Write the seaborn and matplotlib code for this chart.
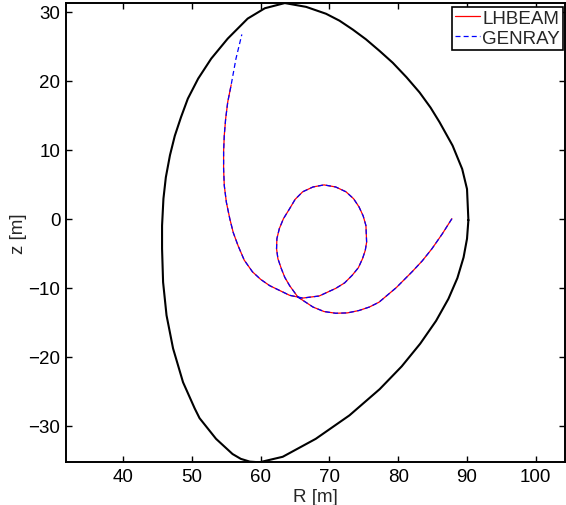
import matplotlib
matplotlib.use("Agg")
import matplotlib.pyplot as plt
import seaborn as sns

# plasma boundary (R, z)
bound_R = [90.2, 90.0, 89.3, 88.6, 87.9, 86.0, 84.7, 83.1, 81.2, 79.2, 77.3, 75.3, 73.4, 71.45,
           69.5, 66.6, 63.5, 60.6, 58.1, 55.2, 52.8, 50.9, 49.4, 48.4, 47.5, 46.8, 46.2, 45.85,
           45.65, 45.65, 45.8, 46.3, 47.25, 48.7, 50.4, 51.1, 53.5, 55.9, 57.1, 58.4, 59.8, 63.2,
           68.0, 72.9, 77.3, 80.5, 83.2, 85.5, 87.3, 88.6, 89.5, 90.0, 90.2]
bound_z = [-0.2, 4.3, 7.2, 8.9, 10.6, 14.0, 16.1, 18.3, 20.5, 22.6, 24.3, 26.0, 27.4, 28.7,
           29.7, 30.7, 31.25, 30.5, 29.0, 26.1, 23.2, 20.3, 17.4, 14.7, 12.0, 9.2, 6.0, 2.9,
           -1.0, -4.35, -9.2, -14.0, -18.8, -23.7, -27.5, -28.9, -31.9, -34.1, -34.8, -35.2, -35.3, -34.5,
           -31.9, -28.5, -24.7, -21.4, -18.1, -14.8, -11.6, -8.6, -5.6, -2.9, -0.2]

# LHBEAM ray
lh_R = [87.8, 86.4, 84.9, 83.5, 82.0, 79.7, 77.2, 75.8, 74.3, 72.6, 70.9, 69.2, 67.6, 65.4,
        64.2, 63.5, 63.0, 62.5, 62.3, 62.35, 62.7, 63.3, 64.2, 65.0, 66.1, 67.6, 69.2, 70.9,
        72.4, 73.5, 74.3, 74.9, 75.3, 75.4, 75.2, 74.8, 74.2, 73.3, 72.2, 70.9, 68.5, 66.1,
        64.2, 61.3, 60.0, 58.8, 57.6, 56.7, 56.0, 55.5, 55.0, 54.7, 54.6, 54.6, 54.7, 54.9,
        55.2, 55.7]
lh_z = [0.0, -2.2, -4.35, -6.1, -7.7, -10.0, -12.1, -12.8, -13.3, -13.65, -13.7, -13.45, -12.8, -11.35,
        -9.7, -8.5, -7.25, -5.8, -4.35, -2.9, -1.45, 0.0, 1.45, 2.8, 3.9, 4.6, 4.9, 4.6,
        3.9, 2.9, 1.7, 0.4, -1.0, -3.4, -4.6, -5.8, -7.1, -8.2, -9.3, -10.1, -11.2, -11.5,
        -11.1, -9.7, -8.8, -7.7, -6.0, -3.9, -2.0, 0.0, 2.4, 4.8, 7.2, 9.7, 12.1, 14.5,
        16.9, 19.4]

# GENRAY ray (same path, runs a bit further)
gr_R = lh_R + [56.4, 57.25]
gr_z = lh_z + [23.2, 26.7]

sns.set_style("ticks")
plt.rcParams['font.family'] = ['Liberation Sans', 'DejaVu Sans']
plt.rcParams['font.size'] = 13.5

fig = plt.figure(figsize=(5.66, 5.06), dpi=100)
ax = fig.add_axes([66 / 566, (506 - 463.3) / 506, (565 - 66) / 566, (463.3 - 4) / 506])

sns.lineplot(x=bound_R, y=bound_z, sort=False, estimator=None, color='black', linewidth=1.5, ax=ax)
sns.lineplot(x=lh_R, y=lh_z, sort=False, estimator=None, color='red', linewidth=0.9,
             label='LHBEAM', ax=ax)
sns.lineplot(x=gr_R, y=gr_z, sort=False, estimator=None, color='blue', linewidth=0.9,
             label='GENRAY', ax=ax)
ax.lines[-1].set_dashes([4, 2.5])
for ln in ax.lines:
    ln.set_solid_joinstyle('round')
    ln.set_dash_joinstyle('round')

ax.set_xlim(31.68, 104.25)
ax.set_ylim(-35.3, 31.26)
ax.set_xticks([40, 50, 60, 70, 80, 90, 100])
ax.set_yticks([-30, -20, -10, 0, 10, 20, 30])
ax.set_xlabel('R [m]', labelpad=2, fontsize=13.5)
ax.set_ylabel('z [m]', labelpad=1, fontsize=13.5)
ax.tick_params(direction='in', length=4, width=1, top=True, right=True, labelsize=13.5, pad=4,
               colors='black')
for s in ax.spines.values():
    s.set_linewidth(1.4)
    s.set_color('black')

leg = ax.legend(loc='upper right', bbox_to_anchor=(563 / 566, (506 - 8) / 506),
                bbox_transform=fig.transFigure, borderaxespad=0, fontsize=13.5,
                handlelength=1.3, handletextpad=0.15, labelspacing=0.15, borderpad=0.15,
                fancybox=False, framealpha=1)
leg.get_frame().set_edgecolor('black')
leg.get_frame().set_linewidth(1.2)
leg.get_lines()[1].set_dashes([4, 2.5])

fig.savefig('out.png', dpi=100)
